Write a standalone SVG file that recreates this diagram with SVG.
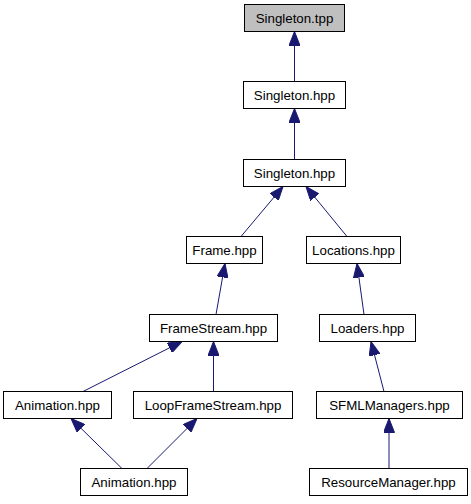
<svg xmlns="http://www.w3.org/2000/svg" width="471" height="504" viewBox="0 0 471 504">
<style>
.node rect{fill:#ffffff;stroke:#000000;stroke-width:1}
.node.root rect{fill:#bfbfbf}
.node text{font-family:"Liberation Sans",Arial,Helvetica,sans-serif;font-size:13.3px;fill:#000000;text-anchor:middle}
.edges line{stroke:#191970;stroke-width:1;fill:none;marker-end:url(#arrow)}
</style>
<defs>
<marker id="arrow" viewBox="0 0 14 11" refX="14" refY="5.5" markerWidth="14" markerHeight="11" orient="auto" markerUnits="userSpaceOnUse">
<path d="M0,0 L14,5.5 L0,11 Z" fill="#191970" stroke="#191970" stroke-width="1"/>
</marker>
</defs>
<rect x="0" y="0" width="471" height="504" fill="#ffffff"/>
<g class="edges">
<line x1="294.5" y1="81.5" x2="294.5" y2="31.5"/>
<line x1="294.5" y1="159.5" x2="294.5" y2="108.5"/>
<line x1="241" y1="236.5" x2="283" y2="186.5"/>
<line x1="347" y1="236.5" x2="306" y2="186.5"/>
<line x1="216" y1="314.5" x2="225" y2="263.5"/>
<line x1="364" y1="314.5" x2="357" y2="263.5"/>
<line x1="83" y1="391.5" x2="182" y2="341.5"/>
<line x1="213.5" y1="391.5" x2="213.5" y2="341.5"/>
<line x1="384" y1="391.5" x2="371" y2="341.5"/>
<line x1="122" y1="468.5" x2="71" y2="418.5"/>
<line x1="147" y1="468.5" x2="197" y2="418.5"/>
<line x1="389" y1="468.5" x2="389" y2="418.5"/>
</g>
<g id="singleton_tpp" class="node root"><rect x="244.5" y="4.5" width="100" height="27"/><text x="294.5" y="22.5">Singleton.tpp</text></g>
<g id="singleton_hpp_1" class="node"><rect x="243.5" y="81.5" width="102" height="27"/><text x="294.5" y="99.5">Singleton.hpp</text></g>
<g id="singleton_hpp_2" class="node"><rect x="243.5" y="159.5" width="102" height="27"/><text x="294.5" y="177.5">Singleton.hpp</text></g>
<g id="frame_hpp" class="node"><rect x="186.5" y="236.5" width="76" height="27"/><text x="224.5" y="254.5">Frame.hpp</text></g>
<g id="locations_hpp" class="node"><rect x="306.5" y="236.5" width="94" height="27"/><text x="353.5" y="254.5">Locations.hpp</text></g>
<g id="framestream_hpp" class="node"><rect x="149.5" y="314.5" width="128" height="27"/><text x="213.5" y="332.5">FrameStream.hpp</text></g>
<g id="loaders_hpp" class="node"><rect x="319.5" y="314.5" width="96" height="27"/><text x="367.5" y="332.5">Loaders.hpp</text></g>
<g id="animation_hpp_1" class="node"><rect x="3.5" y="391.5" width="108" height="27"/><text x="57.5" y="409.5">Animation.hpp</text></g>
<g id="loopframestream_hpp" class="node"><rect x="133.5" y="391.5" width="159" height="27"/><text x="213" y="409.5">LoopFrameStream.hpp</text></g>
<g id="sfmlmanagers_hpp" class="node"><rect x="316.5" y="391.5" width="146" height="27"/><text x="389.5" y="409.5">SFMLManagers.hpp</text></g>
<g id="animation_hpp_2" class="node"><rect x="80.5" y="468.5" width="107" height="27"/><text x="134" y="486.5">Animation.hpp</text></g>
<g id="resourcemanager_hpp" class="node"><rect x="309.5" y="468.5" width="158" height="27"/><text x="388.5" y="486.5">ResourceManager.hpp</text></g>
</svg>
